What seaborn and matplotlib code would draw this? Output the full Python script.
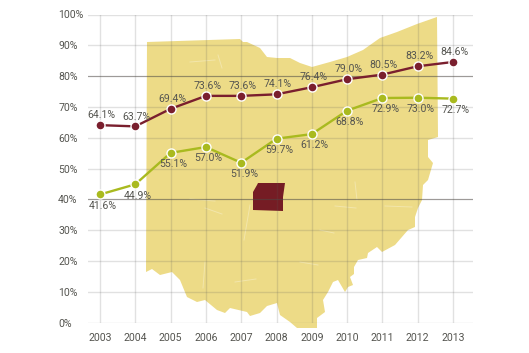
import matplotlib
matplotlib.use("Agg")
import matplotlib.pyplot as plt
import pandas as pd
import seaborn as sns

years = [2003, 2004, 2005, 2006, 2007, 2008, 2009, 2010, 2011, 2012, 2013]
top_values = [64.1, 63.7, 69.4, 73.6, 73.6, 74.1, 76.4, 79.0, 80.5, 83.2, 84.6]
low_values = [41.6, 44.9, 55.1, 57.0, 51.9, 59.7, 61.2, 68.8, 72.9, 73.0, 72.7]
y_ticks = [0, 10, 20, 30, 40, 50, 60, 70, 80, 90, 100]

# background map, traced in image pixels
state_x = [147, 240, 243, 247, 260, 267, 277, 290, 300, 312, 330, 347, 363, 380, 397, 417, 437,
           438, 428, 428, 433, 428, 423, 422, 418, 415, 415, 408, 395, 382, 377, 368, 367, 358,
           354, 354, 350, 353, 348, 345, 338, 333, 328, 323, 325, 317, 317, 297, 290, 280, 277,
           267, 260, 250, 247, 230, 225, 217, 205, 197, 187, 180, 172, 160, 152, 146]
state_y = [42, 39, 42, 42, 48, 57, 58, 58, 63, 67, 62, 57, 50, 38, 32, 24, 17,
           137, 140, 157, 163, 180, 185, 200, 208, 217, 227, 230, 245, 252, 247, 253, 258, 260,
           267, 274, 277, 285, 287, 292, 280, 282, 292, 300, 312, 318, 328, 328, 322, 315, 303,
           306, 313, 316, 312, 308, 313, 310, 300, 302, 297, 280, 272, 275, 269, 272]
county_x = [258, 285, 283, 283, 253, 253, 253, 257]
county_y = [183, 183, 197, 211, 210, 200, 192, 185]
# pale scratches on the map: x1, x2, y1, y2
scratches = [(190, 215, 62, 60), (218, 222, 55, 68), (235, 256, 282, 279), (205, 203, 262, 288),
             (205, 222, 208, 214), (300, 318, 262, 265), (335, 356, 206, 208), (385, 412, 206, 207),
             (355, 357, 182, 200), (250, 244, 205, 240), (190, 215, 199, 201), (320, 334, 230, 233)]

plt.rcParams["font.family"] = ["Roboto", "DejaVu Sans"]

W, H = 529, 353
fig = plt.figure(figsize=(W / 100, H / 100), dpi=100)

bg = fig.add_axes([0, 0, 1, 1], zorder=0)
bg.set_xlim(0, W)
bg.set_ylim(H, 0)
bg.axis("off")
bg.fill(state_x, state_y, color="#eddb87", lw=0)
for x1, x2, y1, y2 in scratches:
    bg.plot([x1, x2], [y1, y2], color="white", alpha=0.3, lw=0.7)
bg.fill(county_x, county_y, color="#751c24", lw=0)

ax = fig.add_axes([88 / W, 1 - 322.7 / H, 384.7 / W, 308.2 / H], zorder=1)
ax.patch.set_alpha(0)

df = pd.DataFrame({
    "year": years * 2,
    "value": top_values + low_values,
    "series": ["top"] * len(years) + ["low"] * len(years),
})
colors = {"top": "#7a1f2e", "low": "#a9ba1f"}
sns.lineplot(data=df, x="year", y="value", hue="series", palette=colors, marker="o", markersize=6.5,
             markeredgecolor="white", markeredgewidth=1.0, linewidth=1.7, legend=False, ax=ax,
             zorder=4, clip_on=False)

for y, v in zip(years, top_values):
    ax.annotate(f"{v:.1f}%", (y, v), xytext=(1, 3.5), textcoords="offset points", ha="center",
                va="bottom", fontsize=7.6, color="#555550", zorder=5)
for y, v in zip(years, low_values):
    ax.annotate(f"{v:.1f}%", (y, v), xytext=(2, -4.5), textcoords="offset points", ha="center",
                va="top", fontsize=7.6, color="#555550", zorder=5)

ax.set_xlim(2003 - 12 / 35.3, 2013 + 19.7 / 35.3)
ax.set_ylim(0, 100)
ax.set_xticks(years)
ax.set_yticks(y_ticks)
ax.set_yticklabels([f"{t}%" for t in y_ticks], ha="left")
ax.set_xlabel("")
ax.set_ylabel("")
ax.tick_params(axis="y", length=0, pad=21.5, labelsize=7.6, labelcolor="#555550")
ax.tick_params(axis="x", length=0, pad=7.5, labelsize=7.6, labelcolor="#555550")
ax.grid(True, color="#5a5a5a", alpha=0.18, linewidth=1.0, zorder=1)
ax.set_axisbelow(True)
for t in [40, 80]:
    ax.axhline(t, color="#4a4540", alpha=0.45, linewidth=0.8, zorder=2)
sns.despine(ax=ax, left=True, bottom=True)

fig.savefig("out.png", dpi=100)
